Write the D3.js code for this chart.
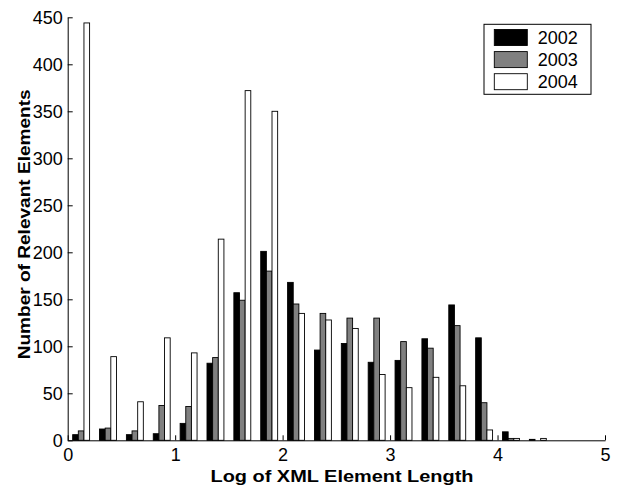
<!DOCTYPE html>
<html>
<head>
<meta charset="utf-8">
<script src="https://cdn.jsdelivr.net/npm/d3@7"></script>
<style>
    body { margin: 0; background: #fff; }
    svg { display: block; font-family: "Liberation Sans", Arial, Helvetica, sans-serif; }
</style>
</head>
<body>
<div id="chart"></div>
<script>
// bin centres on the log axis
var binCenters = [0.125, 0.375, 0.625, 0.875, 1.125, 1.375, 1.625, 1.875, 2.125,
    2.375, 2.625, 2.875, 3.125, 3.375, 3.625, 3.875, 4.125, 4.375];

var counts2002 = [6, 12, 6, 7, 18, 82, 157, 201, 168, 96, 103, 83, 85, 108, 144, 109, 9, 1];
var counts2003 = [10, 13, 10, 37, 36, 88, 149, 180, 145, 135, 130, 130, 105, 98, 122, 40, 2, 0];
var counts2004 = [444, 89, 41, 109, 93, 214, 372, 350, 135, 128, 119, 70, 56, 67, 58, 11, 2, 2];

var years = ['2002', '2003', '2004'];
var fills = ['#000000', '#808080', '#ffffff'];
var xTicks = [0, 1, 2, 3, 4, 5];
var yTicks = [0, 50, 100, 150, 200, 250, 300, 350, 400, 450];

var width = 622,
    height = 485;

var svg = d3.select('#chart').append('svg')
    .attr('width', width)
    .attr('height', height);

var x = d3.scaleLinear().domain([0, 5]).range([67.7, 605]);
var y = d3.scaleLinear().domain([0, 450]).range([440.3, 17.3]);

// each bar is a fixed fraction of the bin spacing (matlab grouped hist look)
var barW = 0.0525;

var series = [counts2002, counts2003, counts2004];

series.forEach(function(vals, i) {
    svg.append('g').selectAll('rect')
        .data(vals)
        .enter()
        .append('rect')
        .attr('x', function(d, j) { return x(binCenters[j] + (i - 1.5) * barW); })
        .attr('width', x(barW) - x(0))
        .attr('y', function(d) { return y(d); })
        .attr('height', function(d) { return y(0) - y(d); })
        .style('fill', fills[i])
        .style('stroke', '#000')
        .style('stroke-width', 0.9)
        .style('display', function(d) { return d > 0 ? null : 'none'; });
});

var xAxis = d3.axisBottom(x)
    .tickValues(xTicks)
    .tickFormat(d3.format('d'))
    .tickSizeInner(-5)
    .tickSizeOuter(0)
    .tickPadding(8.4);

var yAxis = d3.axisLeft(y)
    .tickValues(yTicks)
    .tickFormat(d3.format('d'))
    .tickSizeInner(-5)
    .tickSizeOuter(0)
    .tickPadding(5);

var gx = svg.append('g')
    .attr('transform', 'translate(0,' + y(0) + ')')
    .call(xAxis);

var gy = svg.append('g')
    .attr('transform', 'translate(' + x(0) + ',0)')
    .call(yAxis);

[gx, gy].forEach(function(g) {
    g.attr('font-family', null).attr('font-size', null);
    g.selectAll('text').style('font-size', '18px').style('fill', '#000');
    g.selectAll('line, path').style('stroke', '#000').style('stroke-width', 1);
});

// axis titles
svg.append('text')
    .attr('x', 342)
    .attr('y', 481.5)
    .attr('text-anchor', 'middle')
    .attr('textLength', 263)
    .attr('lengthAdjust', 'spacingAndGlyphs')
    .style('font-size', '17px')
    .style('font-weight', 'bold')
    .text('Log of XML Element Length');

svg.append('text')
    .attr('transform', 'rotate(-90)')
    .attr('x', -224.3)
    .attr('y', 30)
    .attr('text-anchor', 'middle')
    .attr('textLength', 270)
    .attr('lengthAdjust', 'spacingAndGlyphs')
    .style('font-size', '17px')
    .style('font-weight', 'bold')
    .text('Number of Relevant Elements');

// legend
var legend = svg.append('g');

legend.append('rect')
    .attr('x', 484)
    .attr('y', 24.3)
    .attr('width', 107)
    .attr('height', 70)
    .style('fill', '#fff')
    .style('stroke', '#000')
    .style('stroke-width', 1);

var rows = legend.selectAll('g.row')
    .data(years)
    .enter()
    .append('g')
    .attr('class', 'row')
    .attr('transform', function(d, i) { return 'translate(0,' + (37.5 + i * 22.1) + ')'; });

rows.append('rect')
    .attr('x', 494.3)
    .attr('y', -8)
    .attr('width', 33)
    .attr('height', 16)
    .style('fill', function(d, i) { return fills[i]; })
    .style('stroke', '#000')
    .style('stroke-width', 0.9);

rows.append('text')
    .attr('x', 537.7)
    .attr('y', 6.4)
    .style('font-size', '18px')
    .text(function(d) { return d; });
</script>
</body>
</html>
